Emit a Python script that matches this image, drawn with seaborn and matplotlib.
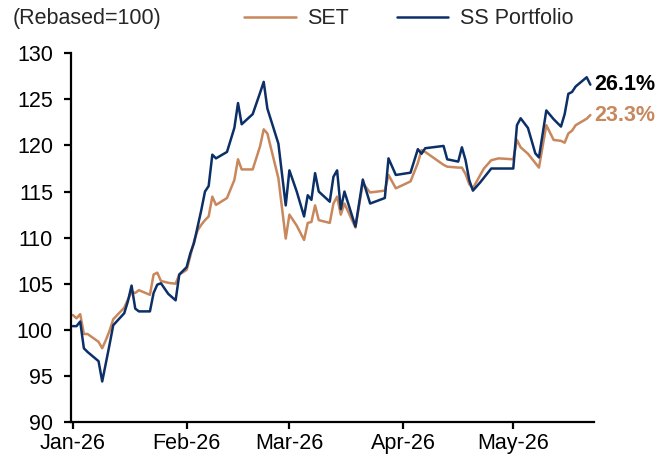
import matplotlib
matplotlib.use("Agg")
import matplotlib.pyplot as plt
import matplotlib.dates as mdates
import pandas as pd
import seaborn as sns

# ── Colours ───────────────────────────────────────────────────
NAVY = "#0B2F66"
TAN = "#C8875C"

# ── Data ──────────────────────────────────────────────────────
start_date = "2026-01-01"
day_offsets = [0, 1, 2, 3, 4, 7, 8, 9, 10, 11,
               14, 15, 16, 17, 18, 21, 22, 23, 24, 26,
               28, 29, 31, 32, 33, 34, 35, 36, 37, 38,
               39, 42, 44, 45, 46, 49, 51, 52, 53, 56,
               58, 59, 61, 63, 64, 65, 66, 67, 70, 71,
               72, 73, 74, 77, 79, 81, 85, 86, 88, 92,
               94, 95, 96, 101, 102, 105, 106, 107, 108, 109,
               111, 112, 114, 116, 120, 121, 122, 124, 126, 127,
               129, 131, 133, 134, 135, 136, 137, 140, 141]

ss_portfolio = [100.4, 100.4, 100.9, 98.0, 97.6, 96.6, 94.4, 96.4, 98.4, 100.5,
                101.8, 103.1, 104.8, 102.3, 102.0, 102.0, 104.0, 104.9, 105.05, 103.9,
                103.2, 106.0, 106.8, 108.3, 109.4, 111.2, 113.0, 115.0, 115.6, 119.0,
                118.6, 119.3, 121.9, 124.6, 122.3, 123.4, 125.7, 126.9, 124.0, 120.2,
                113.5, 117.3, 115.0, 112.3, 114.6, 114.1, 117.0, 115.0, 113.9, 116.6,
                117.3, 113.1, 115.0, 111.2, 116.3, 113.7, 114.3, 118.6, 116.8, 117.05,
                119.6, 119.1, 119.7, 119.95, 118.5, 118.25, 119.8, 118.4, 116.25, 115.1,
                116.0, 116.5, 117.5, 117.5, 117.5, 122.2, 122.95, 121.9, 119.15, 118.7,
                123.8, 122.85, 122.05, 123.4, 125.6, 125.8, 126.4, 127.4, 126.6]

set_index = [101.6, 101.25, 101.7, 99.55, 99.55, 98.7, 98.0, 98.9, 99.9, 101.15,
             102.4, 103.3, 104.1, 104.0, 104.3, 103.8, 106.0, 106.2, 105.3, 105.1,
             105.0, 106.0, 106.5, 108.0, 109.6, 110.8, 111.4, 111.9, 112.3, 114.45,
             113.55, 114.3, 116.25, 118.5, 117.4, 117.4, 119.9, 121.75, 121.3, 116.45,
             109.9, 112.5, 111.3, 109.75, 111.6, 111.7, 113.5, 111.9, 111.6, 113.7,
             114.45, 112.5, 113.7, 111.1, 115.9, 114.9, 115.1, 116.8, 115.35, 116.1,
             118.1, 119.5, 119.3, 117.9, 117.7, 117.6, 117.6, 116.9, 115.8, 115.35,
             116.8, 117.5, 118.4, 118.6, 118.5, 120.6, 119.8, 119.1, 118.1, 117.6,
             122.2, 120.6, 120.5, 120.3, 121.3, 121.6, 122.2, 122.9, 123.3]

series_names = ["SET", "SS Portfolio"]
end_labels = ["23.3%", "26.1%"]
y_ticks = [90, 95, 100, 105, 110, 115, 120, 125, 130]

dates = pd.Timestamp(start_date) + pd.to_timedelta(day_offsets, unit="D")
wide = pd.DataFrame({"date": dates, "SET": set_index, "SS Portfolio": ss_portfolio})
df = wide.melt(id_vars="date", var_name="series", value_name="value")

# ── Style ─────────────────────────────────────────────────────
sns.set_style("ticks")
plt.rcParams["font.family"] = ["Liberation Sans", "DejaVu Sans"]
FS = 15.5

fig = plt.figure(figsize=(6.7, 4.59), dpi=100)
ax = fig.add_axes([0.106, 0.0806, 0.7806, 0.8033])

palette = {"SET": TAN, "SS Portfolio": NAVY}
sns.lineplot(data=df, x="date", y="value", hue="series", hue_order=series_names,
             palette=palette, linewidth=1.8, ax=ax)

ax.set_xlim(pd.Timestamp("2025-12-31 12:00"), pd.Timestamp("2026-05-23"))
ax.set_ylim(90, 130)
ax.set_yticks(y_ticks)
ax.xaxis.set_major_locator(mdates.MonthLocator())
ax.xaxis.set_major_formatter(mdates.DateFormatter("%b-%y"))
ax.set_xlabel("")
ax.set_ylabel("")

for side in ["top", "right"]:
    ax.spines[side].set_visible(False)
for side in ["left", "bottom"]:
    ax.spines[side].set_linewidth(1.6)
    ax.spines[side].set_color("black")
ax.tick_params(axis="both", direction="out", length=5, width=1.6,
               labelsize=FS, colors="black")
ax.tick_params(axis="y", pad=8)
ax.tick_params(axis="x", pad=3)

# end-of-line labels
for name, label, col in zip(series_names, end_labels, [TAN, "black"]):
    sub = wide[["date", name]].iloc[-1]
    ax.annotate(label, xy=(sub["date"], sub[name]), xytext=(3, 0),
                textcoords="offset points", va="center", ha="left",
                fontsize=FS, fontweight="bold", color=col, annotation_clip=False)

# header: unit note + legend
fig.text(0.019, 0.959, "(Rebased=100)", fontsize=FS, va="center", ha="left")
handles, labels = ax.get_legend_handles_labels()
ax.get_legend().remove()
fig.legend(handles, labels, loc="center left", bbox_to_anchor=(0.348, 0.959),
           ncol=2, frameon=False, fontsize=FS, handlelength=2.4,
           handletextpad=0.55, columnspacing=2.2, borderpad=0)

plt.savefig("out.png", dpi=100)
plt.close()
